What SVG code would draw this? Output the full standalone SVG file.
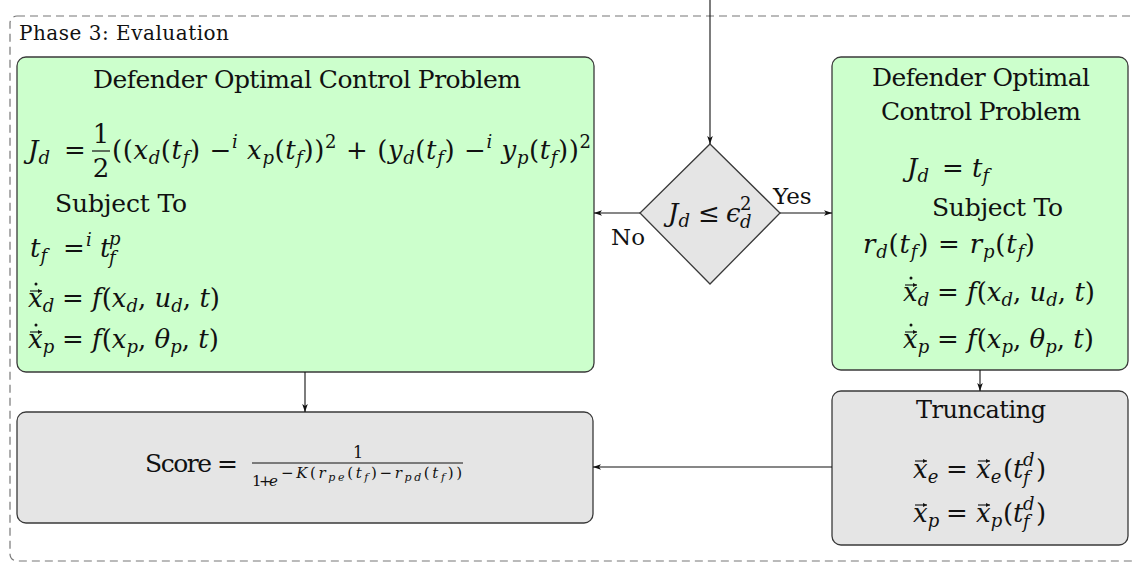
<svg xmlns="http://www.w3.org/2000/svg" width="1135" height="564" viewBox="0 0 1135 564">
<style>
.t{font-family:'DejaVu Serif',serif;font-size:26px;fill:#111}
.i{font-style:italic}
.s{font-size:18px}
.green{fill:#ccffcc;stroke:#3a3a3a;stroke-width:1.3}
.gray{fill:#e5e5e5;stroke:#3a3a3a;stroke-width:1.3}
.conn{stroke:#111;stroke-width:1.1;fill:none;marker-end:url(#ah)}
.acc{stroke:#111;stroke-width:1.1;fill:none;marker-end:url(#vh)}
</style>
<defs>
<marker id="ah" viewBox="0 0 10 10" refX="10" refY="5" markerWidth="8" markerHeight="8" markerUnits="userSpaceOnUse" orient="auto">
<path d="M0,1.5 L10,5 L0,8.5 L2.5,5 Z" fill="#111"/>
</marker>
<marker id="vh" viewBox="0 0 10 10" refX="10" refY="5" markerWidth="4" markerHeight="4" markerUnits="userSpaceOnUse" orient="auto">
<path d="M0,0 L10,5 L0,10 Z" fill="#111"/>
</marker>
</defs>
<rect id="frame" x="10" y="16" width="1140" height="545" rx="7" fill="none" stroke="#777" stroke-width="1.2" stroke-dasharray="8,5"/>
<text class="t" x="19" y="40" style="font-size:20px" textLength="210">Phase 3:  Evaluation</text>

<g id="left-ocp">
<rect class="green" x="17" y="57" width="577" height="315" rx="9"/>
<text class="t" x="307" y="88" text-anchor="middle" textLength="428" style="font-size:25px">Defender Optimal Control Problem</text>
<text class="t" x="28" y="159"><tspan class="i">J</tspan><tspan class="s i" dy="5">d</tspan><tspan dy="-5" x="64">=</tspan></text>
<text class="t" x="101" y="143" text-anchor="middle">1</text>
<line x1="92" y1="151" x2="110" y2="151" stroke="#111" stroke-width="1.2"/>
<text class="t" x="101" y="177" text-anchor="middle">2</text>
<text class="t" x="112" y="159" textLength="479">((<tspan class="i">x</tspan><tspan class="s i" dy="5">d</tspan><tspan dy="-5">(</tspan><tspan class="i">t</tspan><tspan class="s i" dy="5">f</tspan><tspan dy="-5">) −</tspan><tspan class="s i" dy="-11">i</tspan><tspan class="i" dy="11"> x</tspan><tspan class="s i" dy="5">p</tspan><tspan dy="-5">(</tspan><tspan class="i">t</tspan><tspan class="s i" dy="5">f</tspan><tspan dy="-5">))</tspan><tspan class="s" dy="-11">2</tspan><tspan dy="11"> + (</tspan><tspan class="i">y</tspan><tspan class="s i" dy="5">d</tspan><tspan dy="-5">(</tspan><tspan class="i">t</tspan><tspan class="s i" dy="5">f</tspan><tspan dy="-5">) −</tspan><tspan class="s i" dy="-11">i</tspan><tspan class="i" dy="11"> y</tspan><tspan class="s i" dy="5">p</tspan><tspan dy="-5">(</tspan><tspan class="i">t</tspan><tspan class="s i" dy="5">f</tspan><tspan dy="-5">))</tspan><tspan class="s" dy="-11">2</tspan></text>
<text class="t" x="55" y="212" textLength="132" style="font-size:25px">Subject To</text>
<text class="t" x="30" y="257"><tspan class="i">t</tspan><tspan class="s i" dy="5">f</tspan><tspan dy="-5" x="63">=</tspan><tspan class="s i" dy="-11" x="86">i</tspan><tspan class="i" dy="11" x="100">t</tspan><tspan class="s i" dy="-12" x="109">p</tspan><tspan class="s i" dy="19" x="109">f</tspan></text>
<text class="t" x="28" y="307"><tspan class="i">x</tspan><tspan class="s i" dy="5">d</tspan><tspan dy="-5" x="62">= </tspan><tspan class="i">f</tspan><tspan>(</tspan><tspan class="i">x</tspan><tspan class="s i" dy="5">d</tspan><tspan dy="-5">, </tspan><tspan class="i">u</tspan><tspan class="s i" dy="5">d</tspan><tspan dy="-5">, </tspan><tspan class="i">t</tspan><tspan>)</tspan></text>
<line class="acc" x1="30" y1="291" x2="42" y2="291"/><circle cx="36" cy="284" r="1.5" fill="#111"/>
<text class="t" x="28" y="348"><tspan class="i">x</tspan><tspan class="s i" dy="5">p</tspan><tspan dy="-5" x="62">= </tspan><tspan class="i">f</tspan><tspan>(</tspan><tspan class="i">x</tspan><tspan class="s i" dy="5">p</tspan><tspan dy="-5">, </tspan><tspan class="i">θ</tspan><tspan class="s i" dy="5">p</tspan><tspan dy="-5">, </tspan><tspan class="i">t</tspan><tspan>)</tspan></text>
<line class="acc" x1="30" y1="332" x2="42" y2="332"/><circle cx="36" cy="325" r="1.5" fill="#111"/>
</g>

<g id="decision">
<polygon class="gray" points="710,144 780,213 710,284 640,213"/>
<text class="t" x="668" y="222"><tspan class="i">J</tspan><tspan class="s i" dy="5">d</tspan><tspan dy="-5" x="698">≤</tspan><tspan class="i" x="726">ϵ</tspan><tspan class="s" dy="-12" x="740">2</tspan><tspan class="s i" dy="18" x="740">d</tspan></text>
</g>

<g id="right-ocp">
<rect class="green" x="832" y="57" width="296" height="313" rx="9"/>
<text class="t" x="981" y="86" text-anchor="middle" textLength="218" style="font-size:25px">Defender Optimal</text>
<text class="t" x="981" y="120" text-anchor="middle" textLength="200" style="font-size:25px">Control Problem</text>
<text class="t" x="907" y="177"><tspan class="i">J</tspan><tspan class="s i" dy="5">d</tspan><tspan dy="-5" x="942">=</tspan><tspan class="i" x="972">t</tspan><tspan class="s i" dy="5">f</tspan></text>
<text class="t" x="932" y="216" textLength="131" style="font-size:25px">Subject To</text>
<text class="t" x="863" y="253" textLength="172"><tspan class="i">r</tspan><tspan class="s i" dy="5">d</tspan><tspan dy="-5">(</tspan><tspan class="i">t</tspan><tspan class="s i" dy="5">f</tspan><tspan dy="-5">) = </tspan><tspan class="i">r</tspan><tspan class="s i" dy="5">p</tspan><tspan dy="-5">(</tspan><tspan class="i">t</tspan><tspan class="s i" dy="5">f</tspan><tspan dy="-5">)</tspan></text>
<text class="t" x="903" y="301"><tspan class="i">x</tspan><tspan class="s i" dy="5">d</tspan><tspan dy="-5" x="937">= </tspan><tspan class="i">f</tspan><tspan>(</tspan><tspan class="i">x</tspan><tspan class="s i" dy="5">d</tspan><tspan dy="-5">, </tspan><tspan class="i">u</tspan><tspan class="s i" dy="5">d</tspan><tspan dy="-5">, </tspan><tspan class="i">t</tspan><tspan>)</tspan></text>
<line class="acc" x1="905" y1="285" x2="917" y2="285"/><circle cx="911" cy="278" r="1.5" fill="#111"/>
<text class="t" x="903" y="348"><tspan class="i">x</tspan><tspan class="s i" dy="5">p</tspan><tspan dy="-5" x="937">= </tspan><tspan class="i">f</tspan><tspan>(</tspan><tspan class="i">x</tspan><tspan class="s i" dy="5">p</tspan><tspan dy="-5">, </tspan><tspan class="i">θ</tspan><tspan class="s i" dy="5">p</tspan><tspan dy="-5">, </tspan><tspan class="i">t</tspan><tspan>)</tspan></text>
<line class="acc" x1="905" y1="332" x2="917" y2="332"/><circle cx="911" cy="325" r="1.5" fill="#111"/>
</g>

<g id="truncating">
<rect class="gray" x="832" y="391" width="296" height="154" rx="9"/>
<text class="t" x="981" y="418" text-anchor="middle" textLength="130" style="font-size:24px">Truncating</text>
<text class="t" x="913" y="478"><tspan class="i">x</tspan><tspan class="s i" dy="5">e</tspan><tspan dy="-5" x="946">=</tspan><tspan class="i" x="976">x</tspan><tspan class="s i" dy="5">e</tspan><tspan dy="-5" x="1003">(</tspan><tspan class="i" x="1013">t</tspan><tspan class="s i" dy="-12" x="1023">d</tspan><tspan class="s i" dy="18" x="1023">f</tspan><tspan dy="-6" x="1036">)</tspan></text>
<line class="acc" x1="915" y1="461" x2="927" y2="461"/>
<line class="acc" x1="978" y1="461" x2="990" y2="461"/>
<text class="t" x="913" y="522"><tspan class="i">x</tspan><tspan class="s i" dy="5">p</tspan><tspan dy="-5" x="946">=</tspan><tspan class="i" x="976">x</tspan><tspan class="s i" dy="5">p</tspan><tspan dy="-5" x="1003">(</tspan><tspan class="i" x="1013">t</tspan><tspan class="s i" dy="-12" x="1023">d</tspan><tspan class="s i" dy="18" x="1023">f</tspan><tspan dy="-6" x="1036">)</tspan></text>
<line class="acc" x1="915" y1="505" x2="927" y2="505"/>
<line class="acc" x1="978" y1="505" x2="990" y2="505"/>
</g>

<g id="score">
<rect class="gray" x="17" y="412" width="576" height="111" rx="9"/>
<text class="t" x="145" y="472" style="font-size:25px" textLength="93">Score =</text>
<text class="t" x="358" y="458" text-anchor="middle" style="font-size:16px">1</text>
<line x1="252" y1="463" x2="463" y2="463" stroke="#111" stroke-width="1"/>
<text class="t" x="252" y="486" style="font-size:15px" textLength="26">1+<tspan class="i">e</tspan></text>
<text class="t" x="281" y="478" style="font-size:15px" textLength="181">−<tspan class="i">K</tspan>(<tspan class="i">r</tspan><tspan style="font-size:11px" class="i" dy="3">pe</tspan><tspan dy="-3">(</tspan><tspan class="i">t</tspan><tspan style="font-size:11px" class="i" dy="3">f</tspan><tspan dy="-3">)−</tspan><tspan class="i">r</tspan><tspan style="font-size:11px" class="i" dy="3">pd</tspan><tspan dy="-3">(</tspan><tspan class="i">t</tspan><tspan style="font-size:11px" class="i" dy="3">f</tspan><tspan dy="-3">))</tspan></text>
</g>

<g id="connectors">
<line class="conn" x1="710" y1="0" x2="710" y2="144"/>
<line class="conn" x1="640" y1="213" x2="594" y2="213"/>
<line class="conn" x1="780" y1="213" x2="832" y2="213"/>
<line class="conn" x1="305" y1="372" x2="305" y2="412"/>
<line class="conn" x1="980" y1="370" x2="980" y2="391"/>
<line class="conn" x1="832" y1="467" x2="593" y2="467"/>
<text class="t" x="611" y="245" style="font-size:23px">No</text>
<text class="t" x="773" y="204" style="font-size:23px">Yes</text>
</g>
</svg>
